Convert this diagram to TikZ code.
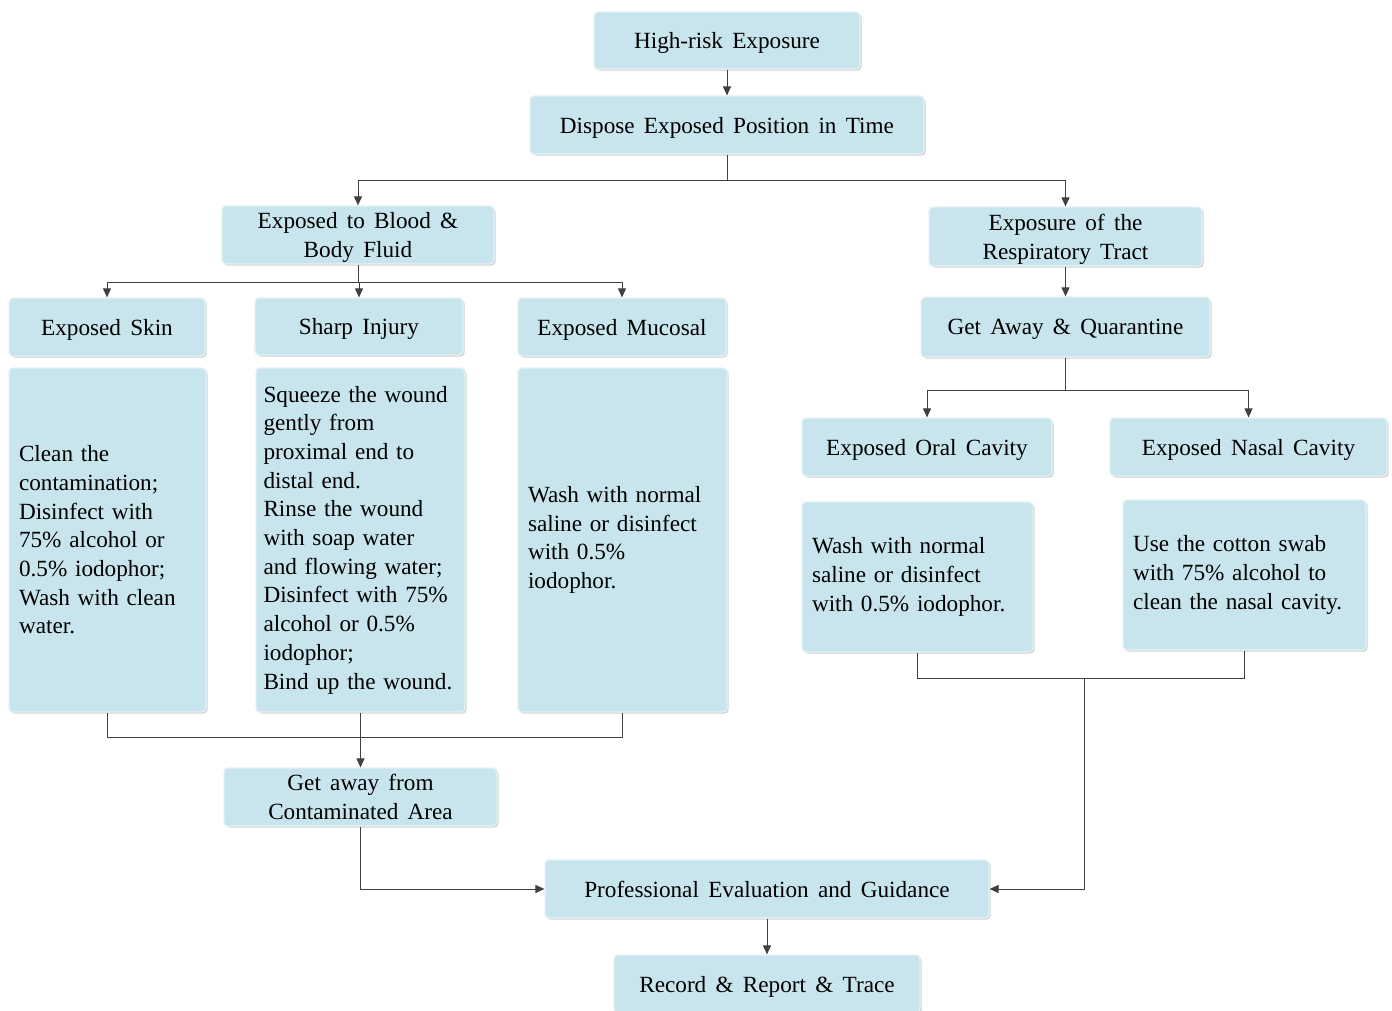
\documentclass[tikz,border=0pt]{standalone}
\usepackage{fontspec}
\setmainfont{Liberation Serif}
\usetikzlibrary{arrows.meta,shadows}
\definecolor{BoxFill}{HTML}{C8E4EC}
\definecolor{BoxEdge}{HTML}{E4F2F6}
\definecolor{LineGray}{HTML}{404040}
\newcommand\chartfont{\fontsize{11.6}{14.35}\selectfont}
\newcommand\headfont{\chartfont\spaceskip=0.4em plus 0.1em\relax}

\tikzset{
  base/.style={rectangle, rounded corners=2pt, fill=BoxFill, draw=BoxEdge,
    line width=0.6pt, inner sep=0pt,
    drop shadow={shadow xshift=0.8pt, shadow yshift=-0.8pt, opacity=0.35},
    font=\chartfont},
  head/.style={base, align=center, font=\headfont, text depth=0pt},
  note/.style={base, align=left, inner xsep=5pt},
  boxsize/.style 2 args={minimum width=#1, minimum height=#2},
  link/.style={draw=LineGray, line width=0.5pt},
  arr/.style={link, -{Triangle[length=4.5pt,width=4pt]}},
}

\begin{document}
\begin{tikzpicture}[x=0.5pt, y=-0.5pt]
  \useasboundingbox (0,0) rectangle (1392,1011);

  % top of the chart
  \node[head, boxsize={133pt}{28.5pt}] (risk) at (727,40.5) {High-risk Exposure};
  \node[head, boxsize={197pt}{29pt}] (dispose) at (727,125) {Dispose Exposed Position in Time};

  % left branch: blood and body fluid
  \node[head, boxsize={136pt}{29pt}] (blood) at (358,235) {Exposed to Blood \&\\Body Fluid};
  \node[head, boxsize={98pt}{29pt}] (skin) at (107,327) {Exposed Skin};
  \node[head, boxsize={104pt}{28.5pt}] (sharp) at (359,326.5) {Sharp Injury};
  \node[head, boxsize={104pt}{29pt}] (mucosa) at (622,327) {Exposed Mucosal};
  \node[note, text width=88.5pt, minimum height=172pt] (skintxt) at (107.5,540)
    {Clean the\\contamination;\\Disinfect with\\75\% alcohol or\\0.5\% iodophor;\\Wash with clean\\water.};
  \node[note, text width=97pt, inner xsep=3.75pt, minimum height=172pt] (sharptxt) at (360.5,540)
    {Squeeze the wound\\gently from\\proximal end to\\distal end.\\Rinse the wound\\with soap water\\and flowing water;\\Disinfect with 75\%\\alcohol or 0.5\%\\iodophor;\\Bind up the wound.};
  \node[note, text width=94.5pt, minimum height=172pt] (mucosatxt) at (622.5,540)
    {Wash with normal\\saline or disinfect\\with 0.5\%\\iodophor.};
  \node[head, boxsize={136.5pt}{29pt}] (leave) at (360.5,797) {Get away from\\Contaminated Area};

  % right branch: respiratory tract
  \node[head, boxsize={136.5pt}{29.5pt}] (resp) at (1065.5,236.5) {Exposure of the\\Respiratory Tract};
  \node[head, boxsize={144.5pt}{30pt}] (away) at (1065.5,327) {Get Away \& Quarantine};
  \node[head, boxsize={125pt}{29pt}] (oral) at (927,447) {Exposed Oral Cavity};
  \node[head, boxsize={138.5pt}{29pt}] (nasal) at (1248.5,447) {Exposed Nasal Cavity};
  \node[note, text width=105.5pt, minimum height=75pt] (oraltxt) at (917.5,577)
    {Wash with normal\\saline or disinfect\\with 0.5\% iodophor.};
  \node[note, text width=111.5pt, minimum height=75pt] (nasaltxt) at (1244.5,575)
    {Use the cotton swab\\with 75\% alcohol to\\clean the nasal cavity.};

  % bottom of the chart
  \node[head, boxsize={222pt}{29pt}] (expert) at (767,889) {Professional Evaluation and Guidance};
  \node[head, boxsize={153pt}{29pt}] (record) at (767,984) {Record \& Report \& Trace};

  % junctions
  \coordinate (jdispose) at (727,180);
  \coordinate (jblood) at (358,282);
  \coordinate (jaway) at (1065.5,390);
  \coordinate (jleft) at (360.5,737);
  \coordinate (jright) at (1084,678);

  % connectors
  \draw[arr] (risk) -- (dispose);
  \draw[link] (dispose) -- (jdispose);
  \draw[arr] (jdispose) -| (blood.north);
  \draw[arr] (jdispose) -| (resp.north);
  \draw[link] (blood) -- (jblood);
  \draw[arr] (jblood) -| (skin.north);
  \draw[arr] (jblood) -| (sharp.north);
  \draw[arr] (jblood) -| (mucosa.north);
  \draw[arr] (resp) -- (away);
  \draw[link] (away) -- (jaway);
  \draw[arr] (jaway) -| (oral.north);
  \draw[arr] (jaway) -| (nasal.north);
  \draw[link] (skintxt.south) |- (jleft);
  \draw[link] (mucosatxt.south) |- (jleft);
  \draw[arr] (sharptxt.south) -- (leave.north);
  \draw[arr] (leave.south) |- (expert.west);
  \draw[link] (oraltxt.south) |- (jright);
  \draw[link] (nasaltxt.south) |- (jright);
  \draw[arr] (jright) |- (expert.east);
  \draw[arr] (expert) -- (record);
\end{tikzpicture}
\end{document}
